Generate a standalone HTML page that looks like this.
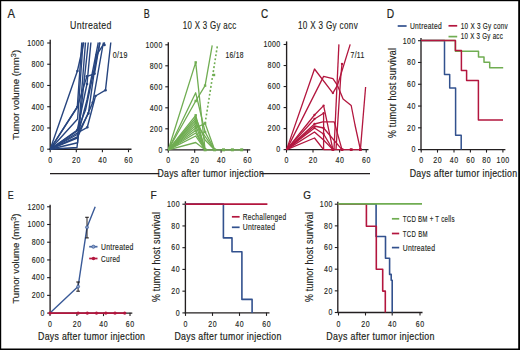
<!DOCTYPE html>
<html><head><meta charset="utf-8"><style>
html,body{margin:0;padding:0;background:#fff;overflow:hidden;}
svg{display:block;font-family:"Liberation Sans", sans-serif;}
</style></head><body>
<svg width="520" height="350" viewBox="0 0 520 350">
<rect x="0" y="0" width="520" height="350" fill="#fff"/>
<text x="7.4" y="17.9" font-size="12.0" text-anchor="start" fill="#231f20" stroke="#231f20" stroke-width="0.2" textLength="7.5" lengthAdjust="spacingAndGlyphs">A</text>
<text transform="translate(70,29.2) scale(0.821,1)" font-size="10.7" text-anchor="start" fill="#231f20" stroke="#231f20" stroke-width="0.15" textLength="50.55" lengthAdjust="spacing">Untreated</text>
<line x1="50.2" y1="39.8" x2="50.2" y2="149.79999999999998" stroke="#231f20" stroke-width="1.35"/>
<line x1="47.2" y1="149.2" x2="50.5" y2="149.2" stroke="#231f20" stroke-width="1.1"/>
<text transform="translate(44.0,152.0) scale(0.807,1)" font-size="8.7" text-anchor="end" fill="#231f20" stroke="#231f20" stroke-width="0.15" textLength="5.20" lengthAdjust="spacing">0</text>
<line x1="47.2" y1="127.96" x2="50.5" y2="127.96" stroke="#231f20" stroke-width="1.1"/>
<text transform="translate(44.0,130.76) scale(0.807,1)" font-size="8.7" text-anchor="end" fill="#231f20" stroke="#231f20" stroke-width="0.15" textLength="15.61" lengthAdjust="spacing">200</text>
<line x1="47.2" y1="106.72" x2="50.5" y2="106.72" stroke="#231f20" stroke-width="1.1"/>
<text transform="translate(44.0,109.52) scale(0.807,1)" font-size="8.7" text-anchor="end" fill="#231f20" stroke="#231f20" stroke-width="0.15" textLength="15.61" lengthAdjust="spacing">400</text>
<line x1="47.2" y1="85.47999999999999" x2="50.5" y2="85.47999999999999" stroke="#231f20" stroke-width="1.1"/>
<text transform="translate(44.0,88.27999999999999) scale(0.807,1)" font-size="8.7" text-anchor="end" fill="#231f20" stroke="#231f20" stroke-width="0.15" textLength="15.61" lengthAdjust="spacing">600</text>
<line x1="47.2" y1="64.24" x2="50.5" y2="64.24" stroke="#231f20" stroke-width="1.1"/>
<text transform="translate(44.0,67.03999999999999) scale(0.807,1)" font-size="8.7" text-anchor="end" fill="#231f20" stroke="#231f20" stroke-width="0.15" textLength="15.61" lengthAdjust="spacing">800</text>
<line x1="47.2" y1="43.0" x2="50.5" y2="43.0" stroke="#231f20" stroke-width="1.1"/>
<text transform="translate(44.0,45.8) scale(0.807,1)" font-size="8.7" text-anchor="end" fill="#231f20" stroke="#231f20" stroke-width="0.15" textLength="20.82" lengthAdjust="spacing">1000</text>
<line x1="49.6" y1="149.2" x2="131.5" y2="149.2" stroke="#231f20" stroke-width="1.35"/>
<line x1="50.2" y1="148.89999999999998" x2="50.2" y2="152.2" stroke="#231f20" stroke-width="1.1"/>
<text transform="translate(50.2,163.0) scale(0.807,1)" font-size="8.7" text-anchor="middle" fill="#231f20" stroke="#231f20" stroke-width="0.15" textLength="5.20" lengthAdjust="spacing">0</text>
<line x1="76.3" y1="148.89999999999998" x2="76.3" y2="152.2" stroke="#231f20" stroke-width="1.1"/>
<text transform="translate(76.3,163.0) scale(0.807,1)" font-size="8.7" text-anchor="middle" fill="#231f20" stroke="#231f20" stroke-width="0.15" textLength="10.41" lengthAdjust="spacing">20</text>
<line x1="102.4" y1="148.89999999999998" x2="102.4" y2="152.2" stroke="#231f20" stroke-width="1.1"/>
<text transform="translate(102.4,163.0) scale(0.807,1)" font-size="8.7" text-anchor="middle" fill="#231f20" stroke="#231f20" stroke-width="0.15" textLength="10.41" lengthAdjust="spacing">40</text>
<line x1="128.5" y1="148.89999999999998" x2="128.5" y2="152.2" stroke="#231f20" stroke-width="1.1"/>
<text transform="translate(128.5,163.0) scale(0.807,1)" font-size="8.7" text-anchor="middle" fill="#231f20" stroke="#231f20" stroke-width="0.15" textLength="10.41" lengthAdjust="spacing">60</text>
<text transform="translate(19.4,94.9) rotate(-90)" font-size="9.6" text-anchor="middle" fill="#231f20" stroke="#231f20" stroke-width="0.14">Tumor volume (mm<tspan font-size="7.4" dy="-3.9">3</tspan><tspan dy="3.9">)</tspan></text>
<text transform="translate(112.7,57.8) scale(0.813,1)" font-size="8.7" text-anchor="start" fill="#231f20" stroke="#231f20" stroke-width="0.15" textLength="18.20" lengthAdjust="spacing">0/19</text>
<polyline points="50.20,149.20 77.40,71.00 83.80,42.50" fill="none" stroke="#27457f" stroke-width="1.4" stroke-linejoin="round" />
<polyline points="50.20,149.20 77.30,107.00 86.90,76.40 94.50,73.80 99.80,42.50" fill="none" stroke="#27457f" stroke-width="1.4" stroke-linejoin="round" />
<polyline points="50.20,149.20 77.60,119.00 83.00,42.50" fill="none" stroke="#27457f" stroke-width="1.4" stroke-linejoin="round" />
<polyline points="50.20,149.20 77.60,142.70 85.50,42.50" fill="none" stroke="#27457f" stroke-width="1.4" stroke-linejoin="round" />
<polyline points="50.20,149.20 77.30,130.00 87.00,84.00 90.90,42.50" fill="none" stroke="#27457f" stroke-width="1.4" stroke-linejoin="round" />
<polyline points="50.20,149.20 77.30,107.00 81.80,42.50" fill="none" stroke="#27457f" stroke-width="1.4" stroke-linejoin="round" />
<polyline points="50.20,149.20 77.30,133.00 87.30,127.30 95.50,96.00 105.50,90.20 110.80,42.50" fill="none" stroke="#27457f" stroke-width="1.4" stroke-linejoin="round" />
<polyline points="50.20,149.20 77.30,134.50 88.40,113.40 96.60,54.80 104.80,42.50" fill="none" stroke="#27457f" stroke-width="1.4" stroke-linejoin="round" />
<polyline points="50.20,149.20 77.00,147.50 88.30,42.50" fill="none" stroke="#27457f" stroke-width="1.4" stroke-linejoin="round" />
<polyline points="50.20,149.20 77.30,137.00 87.00,100.00 98.30,42.50" fill="none" stroke="#27457f" stroke-width="1.4" stroke-linejoin="round" />
<polyline points="50.20,149.20 77.30,131.00 85.50,110.00 100.00,42.50" fill="none" stroke="#27457f" stroke-width="1.4" stroke-linejoin="round" />
<polyline points="50.20,149.20 77.30,138.00 92.70,102.60 103.40,42.50" fill="none" stroke="#27457f" stroke-width="1.4" stroke-linejoin="round" />
<circle cx="77.40" cy="71.00" r="1.3" fill="#27457f"/>
<circle cx="77.30" cy="107.00" r="1.3" fill="#27457f"/>
<circle cx="87.30" cy="127.30" r="1.3" fill="#27457f"/>
<circle cx="95.50" cy="96.00" r="1.3" fill="#27457f"/>
<circle cx="105.50" cy="90.20" r="1.3" fill="#27457f"/>
<circle cx="86.90" cy="76.40" r="1.3" fill="#27457f"/>
<circle cx="94.50" cy="73.80" r="1.3" fill="#27457f"/>
<circle cx="96.60" cy="54.80" r="1.3" fill="#27457f"/>
<circle cx="77.30" cy="130.00" r="1.3" fill="#27457f"/>
<circle cx="88.40" cy="113.40" r="1.3" fill="#27457f"/>
<circle cx="104.50" cy="45.00" r="1.3" fill="#27457f"/>
<circle cx="87.00" cy="84.00" r="1.3" fill="#27457f"/>
<circle cx="92.70" cy="102.60" r="1.3" fill="#27457f"/>
<text x="143.8" y="17.8" font-size="12.4" text-anchor="start" fill="#231f20" stroke="#231f20" stroke-width="0.2" textLength="6.0" lengthAdjust="spacingAndGlyphs">B</text>
<text transform="translate(182.7,29.1) scale(0.74,1)" font-size="10.7" text-anchor="start" fill="#231f20" stroke="#231f20" stroke-width="0.15" textLength="72.30" lengthAdjust="spacing">10 X 3 Gy acc</text>
<line x1="168.3" y1="42.2" x2="168.3" y2="150.4" stroke="#231f20" stroke-width="1.35"/>
<line x1="165.3" y1="149.8" x2="168.60000000000002" y2="149.8" stroke="#231f20" stroke-width="1.1"/>
<text transform="translate(162.3,152.60000000000002) scale(0.807,1)" font-size="8.7" text-anchor="end" fill="#231f20" stroke="#231f20" stroke-width="0.15" textLength="5.20" lengthAdjust="spacing">0</text>
<line x1="165.3" y1="128.8" x2="168.60000000000002" y2="128.8" stroke="#231f20" stroke-width="1.1"/>
<text transform="translate(162.3,131.60000000000002) scale(0.807,1)" font-size="8.7" text-anchor="end" fill="#231f20" stroke="#231f20" stroke-width="0.15" textLength="15.61" lengthAdjust="spacing">200</text>
<line x1="165.3" y1="107.80000000000001" x2="168.60000000000002" y2="107.80000000000001" stroke="#231f20" stroke-width="1.1"/>
<text transform="translate(162.3,110.60000000000001) scale(0.807,1)" font-size="8.7" text-anchor="end" fill="#231f20" stroke="#231f20" stroke-width="0.15" textLength="15.61" lengthAdjust="spacing">400</text>
<line x1="165.3" y1="86.80000000000001" x2="168.60000000000002" y2="86.80000000000001" stroke="#231f20" stroke-width="1.1"/>
<text transform="translate(162.3,89.60000000000001) scale(0.807,1)" font-size="8.7" text-anchor="end" fill="#231f20" stroke="#231f20" stroke-width="0.15" textLength="15.61" lengthAdjust="spacing">600</text>
<line x1="165.3" y1="65.80000000000001" x2="168.60000000000002" y2="65.80000000000001" stroke="#231f20" stroke-width="1.1"/>
<text transform="translate(162.3,68.60000000000001) scale(0.807,1)" font-size="8.7" text-anchor="end" fill="#231f20" stroke="#231f20" stroke-width="0.15" textLength="15.61" lengthAdjust="spacing">800</text>
<line x1="165.3" y1="44.80000000000001" x2="168.60000000000002" y2="44.80000000000001" stroke="#231f20" stroke-width="1.1"/>
<text transform="translate(162.3,47.60000000000001) scale(0.807,1)" font-size="8.7" text-anchor="end" fill="#231f20" stroke="#231f20" stroke-width="0.15" textLength="20.82" lengthAdjust="spacing">1000</text>
<line x1="167.70000000000002" y1="149.8" x2="250.3" y2="149.8" stroke="#231f20" stroke-width="1.35"/>
<line x1="168.3" y1="149.5" x2="168.3" y2="152.8" stroke="#231f20" stroke-width="1.1"/>
<text transform="translate(168.3,163.4) scale(0.807,1)" font-size="8.7" text-anchor="middle" fill="#231f20" stroke="#231f20" stroke-width="0.15" textLength="5.20" lengthAdjust="spacing">0</text>
<line x1="194.7" y1="149.5" x2="194.7" y2="152.8" stroke="#231f20" stroke-width="1.1"/>
<text transform="translate(194.7,163.4) scale(0.807,1)" font-size="8.7" text-anchor="middle" fill="#231f20" stroke="#231f20" stroke-width="0.15" textLength="10.41" lengthAdjust="spacing">20</text>
<line x1="221.1" y1="149.5" x2="221.1" y2="152.8" stroke="#231f20" stroke-width="1.1"/>
<text transform="translate(221.1,163.4) scale(0.807,1)" font-size="8.7" text-anchor="middle" fill="#231f20" stroke="#231f20" stroke-width="0.15" textLength="10.41" lengthAdjust="spacing">40</text>
<line x1="247.5" y1="149.5" x2="247.5" y2="152.8" stroke="#231f20" stroke-width="1.1"/>
<text transform="translate(247.5,163.4) scale(0.807,1)" font-size="8.7" text-anchor="middle" fill="#231f20" stroke="#231f20" stroke-width="0.15" textLength="10.41" lengthAdjust="spacing">60</text>
<text transform="translate(225.4,57.8) scale(0.769,1)" font-size="8.7" text-anchor="start" fill="#231f20" stroke="#231f20" stroke-width="0.15" textLength="23.41" lengthAdjust="spacing">16/18</text>
<polyline points="168.30,149.80 195.70,62.40 205.10,149.80" fill="none" stroke="#70ad52" stroke-width="1.3" stroke-linejoin="round" />
<polyline points="168.30,149.80 195.70,92.80 205.10,132.00 214.60,149.80" fill="none" stroke="#70ad52" stroke-width="1.3" stroke-linejoin="round" />
<polyline points="168.30,149.80 195.70,101.00 205.10,85.60 212.20,45.30" fill="none" stroke="#70ad52" stroke-width="1.3" stroke-linejoin="round" />
<polyline points="168.30,149.80 195.70,115.30 205.10,149.80" fill="none" stroke="#70ad52" stroke-width="1.3" stroke-linejoin="round" />
<polyline points="168.30,149.80 195.70,118.00 205.10,140.00 214.60,149.80" fill="none" stroke="#70ad52" stroke-width="1.3" stroke-linejoin="round" />
<polyline points="168.30,149.80 195.70,120.50 205.10,149.80" fill="none" stroke="#70ad52" stroke-width="1.3" stroke-linejoin="round" />
<polyline points="168.30,149.80 195.70,123.00 214.60,149.80" fill="none" stroke="#70ad52" stroke-width="1.3" stroke-linejoin="round" />
<polyline points="168.30,149.80 195.70,125.50 205.10,149.80" fill="none" stroke="#70ad52" stroke-width="1.3" stroke-linejoin="round" />
<polyline points="168.30,149.80 195.70,128.00 205.10,123.40 214.60,149.80" fill="none" stroke="#70ad52" stroke-width="1.3" stroke-linejoin="round" />
<polyline points="168.30,149.80 195.70,130.50 205.10,149.80" fill="none" stroke="#70ad52" stroke-width="1.3" stroke-linejoin="round" />
<polyline points="168.30,149.80 195.70,133.00 205.10,149.80" fill="none" stroke="#70ad52" stroke-width="1.3" stroke-linejoin="round" />
<polyline points="168.30,149.80 195.70,136.00 205.10,149.80" fill="none" stroke="#70ad52" stroke-width="1.3" stroke-linejoin="round" />
<polyline points="168.30,149.80 195.70,142.50 205.10,149.80" fill="none" stroke="#70ad52" stroke-width="1.3" stroke-linejoin="round" />
<polyline points="205.10,149.80 241.70,149.80" fill="none" stroke="#70ad52" stroke-width="1.3" stroke-linejoin="round" />
<polyline points="205.10,123.40 217.60,44.50" fill="none" stroke="#70ad52" stroke-width="1.6" stroke-linejoin="round" stroke-dasharray="1.9,2.1"/>
<rect x="194.50" y="61.20" width="2.4" height="2.4" fill="#70ad52"/>
<rect x="203.90" y="84.40" width="2.4" height="2.4" fill="#70ad52"/>
<rect x="203.90" y="122.20" width="2.4" height="2.4" fill="#70ad52"/>
<rect x="194.50" y="114.10" width="2.4" height="2.4" fill="#70ad52"/>
<rect x="194.50" y="119.30" width="2.4" height="2.4" fill="#70ad52"/>
<rect x="194.50" y="124.30" width="2.4" height="2.4" fill="#70ad52"/>
<rect x="194.50" y="129.30" width="2.4" height="2.4" fill="#70ad52"/>
<rect x="194.50" y="99.80" width="2.4" height="2.4" fill="#70ad52"/>
<rect x="203.90" y="130.80" width="2.4" height="2.4" fill="#70ad52"/>
<rect x="212.80" y="73.80" width="2.4" height="2.4" fill="#70ad52"/>
<rect x="194.50" y="116.80" width="2.4" height="2.4" fill="#70ad52"/>
<rect x="194.50" y="121.80" width="2.4" height="2.4" fill="#70ad52"/>
<rect x="194.50" y="126.80" width="2.4" height="2.4" fill="#70ad52"/>
<rect x="203.60" y="148.30" width="3.0" height="3.0" fill="#70ad52"/>
<rect x="213.10" y="148.30" width="3.0" height="3.0" fill="#70ad52"/>
<rect x="222.00" y="148.30" width="3.0" height="3.0" fill="#70ad52"/>
<rect x="230.90" y="148.30" width="3.0" height="3.0" fill="#70ad52"/>
<rect x="240.20" y="148.30" width="3.0" height="3.0" fill="#70ad52"/>
<text x="261.0" y="18.2" font-size="12.4" text-anchor="start" fill="#231f20" stroke="#231f20" stroke-width="0.2" textLength="7.2" lengthAdjust="spacingAndGlyphs">C</text>
<text transform="translate(298.0,29.1) scale(0.759,1)" font-size="10.7" text-anchor="start" fill="#231f20" stroke="#231f20" stroke-width="0.15" textLength="78.66" lengthAdjust="spacing">10 X 3 Gy conv</text>
<line x1="286.6" y1="41.4" x2="286.6" y2="150.2" stroke="#231f20" stroke-width="1.35"/>
<line x1="283.6" y1="149.6" x2="286.90000000000003" y2="149.6" stroke="#231f20" stroke-width="1.1"/>
<text transform="translate(280.2,152.4) scale(0.807,1)" font-size="8.7" text-anchor="end" fill="#231f20" stroke="#231f20" stroke-width="0.15" textLength="5.20" lengthAdjust="spacing">0</text>
<line x1="283.6" y1="128.57999999999998" x2="286.90000000000003" y2="128.57999999999998" stroke="#231f20" stroke-width="1.1"/>
<text transform="translate(280.2,131.38) scale(0.807,1)" font-size="8.7" text-anchor="end" fill="#231f20" stroke="#231f20" stroke-width="0.15" textLength="15.61" lengthAdjust="spacing">200</text>
<line x1="283.6" y1="107.56" x2="286.90000000000003" y2="107.56" stroke="#231f20" stroke-width="1.1"/>
<text transform="translate(280.2,110.36) scale(0.807,1)" font-size="8.7" text-anchor="end" fill="#231f20" stroke="#231f20" stroke-width="0.15" textLength="15.61" lengthAdjust="spacing">400</text>
<line x1="283.6" y1="86.53999999999999" x2="286.90000000000003" y2="86.53999999999999" stroke="#231f20" stroke-width="1.1"/>
<text transform="translate(280.2,89.33999999999999) scale(0.807,1)" font-size="8.7" text-anchor="end" fill="#231f20" stroke="#231f20" stroke-width="0.15" textLength="15.61" lengthAdjust="spacing">600</text>
<line x1="283.6" y1="65.52" x2="286.90000000000003" y2="65.52" stroke="#231f20" stroke-width="1.1"/>
<text transform="translate(280.2,68.32) scale(0.807,1)" font-size="8.7" text-anchor="end" fill="#231f20" stroke="#231f20" stroke-width="0.15" textLength="15.61" lengthAdjust="spacing">800</text>
<line x1="283.6" y1="44.5" x2="286.90000000000003" y2="44.5" stroke="#231f20" stroke-width="1.1"/>
<text transform="translate(280.2,47.3) scale(0.807,1)" font-size="8.7" text-anchor="end" fill="#231f20" stroke="#231f20" stroke-width="0.15" textLength="20.82" lengthAdjust="spacing">1000</text>
<line x1="285.9" y1="149.6" x2="368.5" y2="149.6" stroke="#231f20" stroke-width="1.35"/>
<line x1="286.5" y1="149.29999999999998" x2="286.5" y2="152.6" stroke="#231f20" stroke-width="1.1"/>
<text transform="translate(286.5,163.4) scale(0.807,1)" font-size="8.7" text-anchor="middle" fill="#231f20" stroke="#231f20" stroke-width="0.15" textLength="5.20" lengthAdjust="spacing">0</text>
<line x1="313.0" y1="149.29999999999998" x2="313.0" y2="152.6" stroke="#231f20" stroke-width="1.1"/>
<text transform="translate(313.0,163.4) scale(0.807,1)" font-size="8.7" text-anchor="middle" fill="#231f20" stroke="#231f20" stroke-width="0.15" textLength="10.41" lengthAdjust="spacing">20</text>
<line x1="339.6" y1="149.29999999999998" x2="339.6" y2="152.6" stroke="#231f20" stroke-width="1.1"/>
<text transform="translate(339.6,163.4) scale(0.807,1)" font-size="8.7" text-anchor="middle" fill="#231f20" stroke="#231f20" stroke-width="0.15" textLength="10.41" lengthAdjust="spacing">40</text>
<line x1="366.2" y1="149.29999999999998" x2="366.2" y2="152.6" stroke="#231f20" stroke-width="1.1"/>
<text transform="translate(366.2,163.4) scale(0.807,1)" font-size="8.7" text-anchor="middle" fill="#231f20" stroke="#231f20" stroke-width="0.15" textLength="10.41" lengthAdjust="spacing">60</text>
<text transform="translate(350.6,57.6) scale(0.777,1)" font-size="8.7" text-anchor="start" fill="#231f20" stroke="#231f20" stroke-width="0.15" textLength="17.50" lengthAdjust="spacing">7/11</text>
<polyline points="286.60,149.60 314.50,69.00 332.90,93.10 337.50,85.20 350.20,44.40" fill="none" stroke="#b3163e" stroke-width="1.3" stroke-linejoin="round" />
<polyline points="286.60,149.60 323.60,76.40 332.90,78.60 337.50,85.40 343.10,99.10 351.20,105.50 355.00,125.00 360.40,149.60" fill="none" stroke="#b3163e" stroke-width="1.3" stroke-linejoin="round" />
<polyline points="286.60,149.60 314.50,115.00 323.60,105.60 332.90,149.60" fill="none" stroke="#b3163e" stroke-width="1.3" stroke-linejoin="round" />
<polyline points="286.60,149.60 314.50,119.00 323.60,113.20 323.60,149.60" fill="none" stroke="#b3163e" stroke-width="1.3" stroke-linejoin="round" />
<polyline points="286.60,149.60 314.50,124.00 322.80,121.90 334.20,121.90 342.00,149.60" fill="none" stroke="#b3163e" stroke-width="1.3" stroke-linejoin="round" />
<polyline points="286.60,149.60 314.50,128.00 323.60,134.00 332.90,149.60" fill="none" stroke="#b3163e" stroke-width="1.3" stroke-linejoin="round" />
<polyline points="286.60,149.60 314.50,132.00 323.60,140.00 332.90,149.60" fill="none" stroke="#b3163e" stroke-width="1.3" stroke-linejoin="round" />
<polyline points="286.60,149.60 314.50,138.00 323.60,149.60" fill="none" stroke="#b3163e" stroke-width="1.3" stroke-linejoin="round" />
<polyline points="286.60,149.60 314.50,126.00 323.60,128.00 342.00,149.60" fill="none" stroke="#b3163e" stroke-width="1.3" stroke-linejoin="round" />
<polyline points="323.60,149.60 360.40,149.60" fill="none" stroke="#b3163e" stroke-width="1.3" stroke-linejoin="round" />
<polyline points="334.00,149.60 338.90,44.40" fill="none" stroke="#b3163e" stroke-width="1.3" stroke-linejoin="round" />
<polyline points="336.00,149.60 340.60,78.60 342.00,64.00" fill="none" stroke="#b3163e" stroke-width="1.3" stroke-linejoin="round" />
<polyline points="360.40,149.60 365.60,87.00" fill="none" stroke="#b3163e" stroke-width="1.3" stroke-linejoin="round" />
<circle cx="323.60" cy="105.60" r="1.15" fill="#b3163e"/>
<circle cx="323.60" cy="113.20" r="1.15" fill="#b3163e"/>
<circle cx="314.50" cy="115.00" r="1.15" fill="#b3163e"/>
<circle cx="314.50" cy="119.00" r="1.15" fill="#b3163e"/>
<circle cx="314.50" cy="124.00" r="1.15" fill="#b3163e"/>
<circle cx="314.50" cy="128.00" r="1.15" fill="#b3163e"/>
<circle cx="342.00" cy="64.00" r="1.15" fill="#b3163e"/>
<circle cx="332.90" cy="93.10" r="1.15" fill="#b3163e"/>
<circle cx="323.60" cy="134.00" r="1.15" fill="#b3163e"/>
<circle cx="323.60" cy="128.00" r="1.15" fill="#b3163e"/>
<rect x="331.50" y="148.20" width="2.8" height="2.8" fill="#b3163e"/>
<rect x="340.60" y="148.20" width="2.8" height="2.8" fill="#b3163e"/>
<rect x="349.80" y="148.20" width="2.8" height="2.8" fill="#b3163e"/>
<rect x="359.00" y="148.20" width="2.8" height="2.8" fill="#b3163e"/>
<line x1="50" y1="173.6" x2="159.2" y2="173.6" stroke="#231f20" stroke-width="1.15"/>
<line x1="260.5" y1="173.6" x2="370" y2="173.6" stroke="#231f20" stroke-width="1.15"/>
<text transform="translate(157.5,177.3) scale(0.83,1)" font-size="10.5" text-anchor="start" fill="#231f20" stroke="#231f20" stroke-width="0.2" textLength="128.07" lengthAdjust="spacing">Days after tumor injection</text>
<text x="386.7" y="17.6" font-size="12.4" text-anchor="start" fill="#231f20" stroke="#231f20" stroke-width="0.2" textLength="7.4" lengthAdjust="spacingAndGlyphs">D</text>
<line x1="397.7" y1="26" x2="406.6" y2="26" stroke="#32518e" stroke-width="1.7"/>
<text transform="translate(410,28.8) scale(0.772,1)" font-size="8.7" text-anchor="start" fill="#231f20" stroke="#231f20" stroke-width="0.15" textLength="41.06" lengthAdjust="spacing">Untreated</text>
<line x1="448.5" y1="25.8" x2="457.2" y2="25.8" stroke="#b3163e" stroke-width="1.7"/>
<text transform="translate(460.8,28.8) scale(0.733,1)" font-size="8.7" text-anchor="start" fill="#231f20" stroke="#231f20" stroke-width="0.15" textLength="63.98" lengthAdjust="spacing">10 X 3 Gy conv</text>
<line x1="448.5" y1="36.6" x2="457.2" y2="36.6" stroke="#70ad52" stroke-width="1.7"/>
<text transform="translate(460.8,39.4) scale(0.715,1)" font-size="8.7" text-anchor="start" fill="#231f20" stroke="#231f20" stroke-width="0.15" textLength="58.74" lengthAdjust="spacing">10 X 3 Gy acc</text>
<line x1="421.0" y1="37.9" x2="421.0" y2="150.2" stroke="#231f20" stroke-width="1.35"/>
<line x1="418.0" y1="149.6" x2="421.3" y2="149.6" stroke="#231f20" stroke-width="1.1"/>
<text transform="translate(415.3,152.4) scale(0.807,1)" font-size="8.7" text-anchor="end" fill="#231f20" stroke="#231f20" stroke-width="0.15" textLength="5.20" lengthAdjust="spacing">0</text>
<line x1="418.0" y1="127.82" x2="421.3" y2="127.82" stroke="#231f20" stroke-width="1.1"/>
<text transform="translate(415.3,130.62) scale(0.807,1)" font-size="8.7" text-anchor="end" fill="#231f20" stroke="#231f20" stroke-width="0.15" textLength="10.41" lengthAdjust="spacing">20</text>
<line x1="418.0" y1="106.03999999999999" x2="421.3" y2="106.03999999999999" stroke="#231f20" stroke-width="1.1"/>
<text transform="translate(415.3,108.83999999999999) scale(0.807,1)" font-size="8.7" text-anchor="end" fill="#231f20" stroke="#231f20" stroke-width="0.15" textLength="10.41" lengthAdjust="spacing">40</text>
<line x1="418.0" y1="84.25999999999999" x2="421.3" y2="84.25999999999999" stroke="#231f20" stroke-width="1.1"/>
<text transform="translate(415.3,87.05999999999999) scale(0.807,1)" font-size="8.7" text-anchor="end" fill="#231f20" stroke="#231f20" stroke-width="0.15" textLength="10.41" lengthAdjust="spacing">60</text>
<line x1="418.0" y1="62.47999999999999" x2="421.3" y2="62.47999999999999" stroke="#231f20" stroke-width="1.1"/>
<text transform="translate(415.3,65.27999999999999) scale(0.807,1)" font-size="8.7" text-anchor="end" fill="#231f20" stroke="#231f20" stroke-width="0.15" textLength="10.41" lengthAdjust="spacing">80</text>
<line x1="418.0" y1="40.69999999999999" x2="421.3" y2="40.69999999999999" stroke="#231f20" stroke-width="1.1"/>
<text transform="translate(415.3,43.499999999999986) scale(0.807,1)" font-size="8.7" text-anchor="end" fill="#231f20" stroke="#231f20" stroke-width="0.15" textLength="15.61" lengthAdjust="spacing">100</text>
<line x1="420.4" y1="149.6" x2="505.4" y2="149.6" stroke="#231f20" stroke-width="1.35"/>
<line x1="421.2" y1="149.29999999999998" x2="421.2" y2="152.6" stroke="#231f20" stroke-width="1.1"/>
<text transform="translate(421.2,163.2) scale(0.807,1)" font-size="8.7" text-anchor="middle" fill="#231f20" stroke="#231f20" stroke-width="0.15" textLength="5.20" lengthAdjust="spacing">0</text>
<line x1="437.5" y1="149.29999999999998" x2="437.5" y2="152.6" stroke="#231f20" stroke-width="1.1"/>
<text transform="translate(437.5,163.2) scale(0.807,1)" font-size="8.7" text-anchor="middle" fill="#231f20" stroke="#231f20" stroke-width="0.15" textLength="10.41" lengthAdjust="spacing">20</text>
<line x1="454.0" y1="149.29999999999998" x2="454.0" y2="152.6" stroke="#231f20" stroke-width="1.1"/>
<text transform="translate(454.0,163.2) scale(0.807,1)" font-size="8.7" text-anchor="middle" fill="#231f20" stroke="#231f20" stroke-width="0.15" textLength="10.41" lengthAdjust="spacing">40</text>
<line x1="470.4" y1="149.29999999999998" x2="470.4" y2="152.6" stroke="#231f20" stroke-width="1.1"/>
<text transform="translate(470.4,163.2) scale(0.807,1)" font-size="8.7" text-anchor="middle" fill="#231f20" stroke="#231f20" stroke-width="0.15" textLength="10.41" lengthAdjust="spacing">60</text>
<line x1="486.5" y1="149.29999999999998" x2="486.5" y2="152.6" stroke="#231f20" stroke-width="1.1"/>
<text transform="translate(486.5,163.2) scale(0.807,1)" font-size="8.7" text-anchor="middle" fill="#231f20" stroke="#231f20" stroke-width="0.15" textLength="10.41" lengthAdjust="spacing">80</text>
<line x1="502.9" y1="149.29999999999998" x2="502.9" y2="152.6" stroke="#231f20" stroke-width="1.1"/>
<text transform="translate(502.9,163.2) scale(0.807,1)" font-size="8.7" text-anchor="middle" fill="#231f20" stroke="#231f20" stroke-width="0.15" textLength="15.61" lengthAdjust="spacing">100</text>
<text transform="translate(395.6,93.0) rotate(-90) scale(0.88,1)" font-size="10.1" text-anchor="middle" fill="#231f20" stroke="#231f20" stroke-width="0.14" textLength="102.27" lengthAdjust="spacing">% tumor host survival</text>
<text transform="translate(409.7,176.7) scale(0.84,1)" font-size="10.5" text-anchor="start" fill="#231f20" stroke="#231f20" stroke-width="0.2" textLength="127.98" lengthAdjust="spacing">Days after tumor injection</text>
<polyline points="421.00,40.60 444.50,40.60 444.50,74.50 449.70,74.50 449.70,88.10 455.60,88.10 455.60,135.20 461.20,135.20 461.20,149.60" fill="none" stroke="#32518e" stroke-width="1.5" stroke-linejoin="round" />
<polyline points="421.00,40.60 455.40,40.60 455.40,51.30 478.50,51.30 478.50,57.00 484.00,57.00 484.00,62.30 489.70,62.30 489.70,67.70 503.20,67.70" fill="none" stroke="#70ad52" stroke-width="1.5" stroke-linejoin="round" />
<polyline points="421.00,40.60 455.40,40.60 455.40,50.40 461.40,50.40 461.40,70.40 466.60,70.40 466.60,80.40 478.40,80.40 478.40,119.90 503.00,119.90" fill="none" stroke="#b3163e" stroke-width="1.5" stroke-linejoin="round" />
<text x="7.8" y="199.2" font-size="11.2" text-anchor="start" fill="#231f20" stroke="#231f20" stroke-width="0.2" textLength="5.9" lengthAdjust="spacingAndGlyphs">E</text>
<line x1="50.1" y1="204.7" x2="50.1" y2="313.70000000000005" stroke="#231f20" stroke-width="1.35"/>
<line x1="47.1" y1="313.1" x2="50.4" y2="313.1" stroke="#231f20" stroke-width="1.1"/>
<text transform="translate(44.3,315.90000000000003) scale(0.807,1)" font-size="8.7" text-anchor="end" fill="#231f20" stroke="#231f20" stroke-width="0.15" textLength="5.20" lengthAdjust="spacing">0</text>
<line x1="47.1" y1="295.38" x2="50.4" y2="295.38" stroke="#231f20" stroke-width="1.1"/>
<text transform="translate(44.3,298.18) scale(0.807,1)" font-size="8.7" text-anchor="end" fill="#231f20" stroke="#231f20" stroke-width="0.15" textLength="15.61" lengthAdjust="spacing">200</text>
<line x1="47.1" y1="277.66" x2="50.4" y2="277.66" stroke="#231f20" stroke-width="1.1"/>
<text transform="translate(44.3,280.46000000000004) scale(0.807,1)" font-size="8.7" text-anchor="end" fill="#231f20" stroke="#231f20" stroke-width="0.15" textLength="15.61" lengthAdjust="spacing">400</text>
<line x1="47.1" y1="259.94000000000005" x2="50.4" y2="259.94000000000005" stroke="#231f20" stroke-width="1.1"/>
<text transform="translate(44.3,262.74000000000007) scale(0.807,1)" font-size="8.7" text-anchor="end" fill="#231f20" stroke="#231f20" stroke-width="0.15" textLength="15.61" lengthAdjust="spacing">600</text>
<line x1="47.1" y1="242.22000000000003" x2="50.4" y2="242.22000000000003" stroke="#231f20" stroke-width="1.1"/>
<text transform="translate(44.3,245.02000000000004) scale(0.807,1)" font-size="8.7" text-anchor="end" fill="#231f20" stroke="#231f20" stroke-width="0.15" textLength="15.61" lengthAdjust="spacing">800</text>
<line x1="47.1" y1="224.50000000000003" x2="50.4" y2="224.50000000000003" stroke="#231f20" stroke-width="1.1"/>
<text transform="translate(44.3,227.30000000000004) scale(0.807,1)" font-size="8.7" text-anchor="end" fill="#231f20" stroke="#231f20" stroke-width="0.15" textLength="20.82" lengthAdjust="spacing">1000</text>
<line x1="47.1" y1="206.78000000000003" x2="50.4" y2="206.78000000000003" stroke="#231f20" stroke-width="1.1"/>
<text transform="translate(44.3,209.58000000000004) scale(0.807,1)" font-size="8.7" text-anchor="end" fill="#231f20" stroke="#231f20" stroke-width="0.15" textLength="20.82" lengthAdjust="spacing">1200</text>
<line x1="49.4" y1="313.1" x2="132.3" y2="313.1" stroke="#231f20" stroke-width="1.35"/>
<line x1="50.0" y1="312.8" x2="50.0" y2="316.1" stroke="#231f20" stroke-width="1.1"/>
<text transform="translate(50.0,326.9) scale(0.807,1)" font-size="8.7" text-anchor="middle" fill="#231f20" stroke="#231f20" stroke-width="0.15" textLength="5.20" lengthAdjust="spacing">0</text>
<line x1="76.9" y1="312.8" x2="76.9" y2="316.1" stroke="#231f20" stroke-width="1.1"/>
<text transform="translate(76.9,326.9) scale(0.807,1)" font-size="8.7" text-anchor="middle" fill="#231f20" stroke="#231f20" stroke-width="0.15" textLength="10.41" lengthAdjust="spacing">20</text>
<line x1="103.5" y1="312.8" x2="103.5" y2="316.1" stroke="#231f20" stroke-width="1.1"/>
<text transform="translate(103.5,326.9) scale(0.807,1)" font-size="8.7" text-anchor="middle" fill="#231f20" stroke="#231f20" stroke-width="0.15" textLength="10.41" lengthAdjust="spacing">40</text>
<line x1="130.0" y1="312.8" x2="130.0" y2="316.1" stroke="#231f20" stroke-width="1.1"/>
<text transform="translate(130.0,326.9) scale(0.807,1)" font-size="8.7" text-anchor="middle" fill="#231f20" stroke="#231f20" stroke-width="0.15" textLength="10.41" lengthAdjust="spacing">60</text>
<text transform="translate(19.4,258.6) rotate(-90)" font-size="9.6" text-anchor="middle" fill="#231f20" stroke="#231f20" stroke-width="0.14">Tumor volume (mm<tspan font-size="7.4" dy="-3.9">3</tspan><tspan dy="3.9">)</tspan></text>
<text transform="translate(38,340.4) scale(0.836,1)" font-size="10.5" text-anchor="start" fill="#231f20" stroke="#231f20" stroke-width="0.2" textLength="127.99" lengthAdjust="spacing">Days after tumor injection</text>
<polyline points="50.00,313.10 78.10,286.60 87.00,227.30 95.20,206.70" fill="none" stroke="#3a5a98" stroke-width="1.4" stroke-linejoin="round" />
<polyline points="50.00,313.10 124.70,313.10" fill="none" stroke="#b3163e" stroke-width="1.6" stroke-linejoin="round" />
<circle cx="50.00" cy="313.10" r="1.7" fill="#b3163e"/>
<circle cx="78.10" cy="313.10" r="1.7" fill="#b3163e"/>
<circle cx="87.30" cy="313.10" r="1.7" fill="#b3163e"/>
<circle cx="96.50" cy="313.10" r="1.7" fill="#b3163e"/>
<circle cx="105.80" cy="313.10" r="1.7" fill="#b3163e"/>
<circle cx="115.00" cy="313.10" r="1.7" fill="#b3163e"/>
<circle cx="124.70" cy="313.10" r="1.7" fill="#b3163e"/>
<line x1="78.1" y1="282" x2="78.1" y2="291.2" stroke="#231f20" stroke-width="1.0"/>
<line x1="76.3" y1="282" x2="79.89999999999999" y2="282" stroke="#231f20" stroke-width="1.1"/>
<line x1="76.3" y1="291.2" x2="79.89999999999999" y2="291.2" stroke="#231f20" stroke-width="1.1"/>
<line x1="87.0" y1="217.3" x2="87.0" y2="237.9" stroke="#231f20" stroke-width="1.0"/>
<line x1="85.2" y1="217.3" x2="88.8" y2="217.3" stroke="#231f20" stroke-width="1.1"/>
<line x1="85.2" y1="237.9" x2="88.8" y2="237.9" stroke="#231f20" stroke-width="1.1"/>
<circle cx="78.1" cy="286.6" r="1.5" fill="#8da2c9" stroke="#3a5a98" stroke-width="0.7"/>
<circle cx="87.0" cy="227.3" r="1.5" fill="#8da2c9" stroke="#3a5a98" stroke-width="0.7"/>
<line x1="89.2" y1="246.7" x2="97.5" y2="246.7" stroke="#4a69a3" stroke-width="1.7"/>
<circle cx="93.4" cy="246.7" r="1.6" fill="#8da2c9" stroke="#3a5a98" stroke-width="0.7"/>
<text transform="translate(101,249.8) scale(0.795,1)" font-size="8.6" text-anchor="start" fill="#231f20" stroke="#231f20" stroke-width="0.15" textLength="40.63" lengthAdjust="spacing">Untreated</text>
<line x1="89.2" y1="258.5" x2="97.5" y2="258.5" stroke="#b3163e" stroke-width="1.7"/>
<circle cx="93.50" cy="258.50" r="1.7" fill="#b3163e"/>
<text transform="translate(101,261.6) scale(0.75,1)" font-size="8.6" text-anchor="start" fill="#231f20" stroke="#231f20" stroke-width="0.15" textLength="25.20" lengthAdjust="spacing">Cured</text>
<text x="150.4" y="198.8" font-size="11.2" text-anchor="start" fill="#231f20" stroke="#231f20" stroke-width="0.2" textLength="6.2" lengthAdjust="spacingAndGlyphs">F</text>
<line x1="185.4" y1="201.3" x2="185.4" y2="313.5" stroke="#231f20" stroke-width="1.35"/>
<line x1="182.4" y1="312.9" x2="185.70000000000002" y2="312.9" stroke="#231f20" stroke-width="1.1"/>
<text transform="translate(179.6,315.7) scale(0.807,1)" font-size="8.7" text-anchor="end" fill="#231f20" stroke="#231f20" stroke-width="0.15" textLength="5.20" lengthAdjust="spacing">0</text>
<line x1="182.4" y1="291.15999999999997" x2="185.70000000000002" y2="291.15999999999997" stroke="#231f20" stroke-width="1.1"/>
<text transform="translate(179.6,293.96) scale(0.807,1)" font-size="8.7" text-anchor="end" fill="#231f20" stroke="#231f20" stroke-width="0.15" textLength="10.41" lengthAdjust="spacing">20</text>
<line x1="182.4" y1="269.41999999999996" x2="185.70000000000002" y2="269.41999999999996" stroke="#231f20" stroke-width="1.1"/>
<text transform="translate(179.6,272.21999999999997) scale(0.807,1)" font-size="8.7" text-anchor="end" fill="#231f20" stroke="#231f20" stroke-width="0.15" textLength="10.41" lengthAdjust="spacing">40</text>
<line x1="182.4" y1="247.67999999999998" x2="185.70000000000002" y2="247.67999999999998" stroke="#231f20" stroke-width="1.1"/>
<text transform="translate(179.6,250.48) scale(0.807,1)" font-size="8.7" text-anchor="end" fill="#231f20" stroke="#231f20" stroke-width="0.15" textLength="10.41" lengthAdjust="spacing">60</text>
<line x1="182.4" y1="225.94" x2="185.70000000000002" y2="225.94" stroke="#231f20" stroke-width="1.1"/>
<text transform="translate(179.6,228.74) scale(0.807,1)" font-size="8.7" text-anchor="end" fill="#231f20" stroke="#231f20" stroke-width="0.15" textLength="10.41" lengthAdjust="spacing">80</text>
<line x1="182.4" y1="204.2" x2="185.70000000000002" y2="204.2" stroke="#231f20" stroke-width="1.1"/>
<text transform="translate(179.6,207.0) scale(0.807,1)" font-size="8.7" text-anchor="end" fill="#231f20" stroke="#231f20" stroke-width="0.15" textLength="15.61" lengthAdjust="spacing">100</text>
<line x1="184.9" y1="312.9" x2="269.5" y2="312.9" stroke="#231f20" stroke-width="1.35"/>
<line x1="185.5" y1="312.59999999999997" x2="185.5" y2="315.9" stroke="#231f20" stroke-width="1.1"/>
<text transform="translate(185.5,326.9) scale(0.807,1)" font-size="8.7" text-anchor="middle" fill="#231f20" stroke="#231f20" stroke-width="0.15" textLength="5.20" lengthAdjust="spacing">0</text>
<line x1="212.5" y1="312.59999999999997" x2="212.5" y2="315.9" stroke="#231f20" stroke-width="1.1"/>
<text transform="translate(212.5,326.9) scale(0.807,1)" font-size="8.7" text-anchor="middle" fill="#231f20" stroke="#231f20" stroke-width="0.15" textLength="10.41" lengthAdjust="spacing">20</text>
<line x1="239.5" y1="312.59999999999997" x2="239.5" y2="315.9" stroke="#231f20" stroke-width="1.1"/>
<text transform="translate(239.5,326.9) scale(0.807,1)" font-size="8.7" text-anchor="middle" fill="#231f20" stroke="#231f20" stroke-width="0.15" textLength="10.41" lengthAdjust="spacing">40</text>
<line x1="266.5" y1="312.59999999999997" x2="266.5" y2="315.9" stroke="#231f20" stroke-width="1.1"/>
<text transform="translate(266.5,326.9) scale(0.807,1)" font-size="8.7" text-anchor="middle" fill="#231f20" stroke="#231f20" stroke-width="0.15" textLength="10.41" lengthAdjust="spacing">60</text>
<text transform="translate(160.0,257.1) rotate(-90) scale(0.88,1)" font-size="10.1" text-anchor="middle" fill="#231f20" stroke="#231f20" stroke-width="0.14" textLength="102.27" lengthAdjust="spacing">% tumor host survival</text>
<text transform="translate(174.4,340.4) scale(0.836,1)" font-size="10.5" text-anchor="start" fill="#231f20" stroke="#231f20" stroke-width="0.2" textLength="127.99" lengthAdjust="spacing">Days after tumor injection</text>
<polyline points="185.40,204.10 223.40,204.10 223.40,237.90 232.00,237.90 232.00,251.80 241.90,251.80 241.90,299.40 252.10,299.40 252.10,312.90" fill="none" stroke="#32518e" stroke-width="1.6" stroke-linejoin="round" />
<polyline points="185.40,204.10 267.40,204.10" fill="none" stroke="#b3163e" stroke-width="1.6" stroke-linejoin="round" />
<line x1="231.9" y1="216.8" x2="239.6" y2="216.8" stroke="#b3163e" stroke-width="1.7"/>
<text transform="translate(242.7,219.9) scale(0.759,1)" font-size="8.7" text-anchor="start" fill="#231f20" stroke="#231f20" stroke-width="0.15" textLength="57.18" lengthAdjust="spacing">Rechallenged</text>
<line x1="231.9" y1="227.3" x2="239.6" y2="227.3" stroke="#32518e" stroke-width="1.7"/>
<text transform="translate(242.7,230.4) scale(0.786,1)" font-size="8.7" text-anchor="start" fill="#231f20" stroke="#231f20" stroke-width="0.15" textLength="41.09" lengthAdjust="spacing">Untreated</text>
<text x="303.3" y="198.9" font-size="11.2" text-anchor="start" fill="#231f20" stroke="#231f20" stroke-width="0.2" textLength="7.7" lengthAdjust="spacingAndGlyphs">G</text>
<line x1="337.8" y1="201.8" x2="337.8" y2="313.1" stroke="#231f20" stroke-width="1.35"/>
<line x1="334.8" y1="312.5" x2="338.1" y2="312.5" stroke="#231f20" stroke-width="1.1"/>
<text transform="translate(332.4,315.3) scale(0.807,1)" font-size="8.7" text-anchor="end" fill="#231f20" stroke="#231f20" stroke-width="0.15" textLength="5.20" lengthAdjust="spacing">0</text>
<line x1="334.8" y1="290.84" x2="338.1" y2="290.84" stroke="#231f20" stroke-width="1.1"/>
<text transform="translate(332.4,293.64) scale(0.807,1)" font-size="8.7" text-anchor="end" fill="#231f20" stroke="#231f20" stroke-width="0.15" textLength="10.41" lengthAdjust="spacing">20</text>
<line x1="334.8" y1="269.18" x2="338.1" y2="269.18" stroke="#231f20" stroke-width="1.1"/>
<text transform="translate(332.4,271.98) scale(0.807,1)" font-size="8.7" text-anchor="end" fill="#231f20" stroke="#231f20" stroke-width="0.15" textLength="10.41" lengthAdjust="spacing">40</text>
<line x1="334.8" y1="247.51999999999998" x2="338.1" y2="247.51999999999998" stroke="#231f20" stroke-width="1.1"/>
<text transform="translate(332.4,250.32) scale(0.807,1)" font-size="8.7" text-anchor="end" fill="#231f20" stroke="#231f20" stroke-width="0.15" textLength="10.41" lengthAdjust="spacing">60</text>
<line x1="334.8" y1="225.86" x2="338.1" y2="225.86" stroke="#231f20" stroke-width="1.1"/>
<text transform="translate(332.4,228.66000000000003) scale(0.807,1)" font-size="8.7" text-anchor="end" fill="#231f20" stroke="#231f20" stroke-width="0.15" textLength="10.41" lengthAdjust="spacing">80</text>
<line x1="334.8" y1="204.2" x2="338.1" y2="204.2" stroke="#231f20" stroke-width="1.1"/>
<text transform="translate(332.4,207.0) scale(0.807,1)" font-size="8.7" text-anchor="end" fill="#231f20" stroke="#231f20" stroke-width="0.15" textLength="15.61" lengthAdjust="spacing">100</text>
<line x1="337.7" y1="312.5" x2="422.5" y2="312.5" stroke="#231f20" stroke-width="1.35"/>
<line x1="338.5" y1="312.2" x2="338.5" y2="315.5" stroke="#231f20" stroke-width="1.1"/>
<text transform="translate(338.5,326.9) scale(0.807,1)" font-size="8.7" text-anchor="middle" fill="#231f20" stroke="#231f20" stroke-width="0.15" textLength="5.20" lengthAdjust="spacing">0</text>
<line x1="365.5" y1="312.2" x2="365.5" y2="315.5" stroke="#231f20" stroke-width="1.1"/>
<text transform="translate(365.5,326.9) scale(0.807,1)" font-size="8.7" text-anchor="middle" fill="#231f20" stroke="#231f20" stroke-width="0.15" textLength="10.41" lengthAdjust="spacing">20</text>
<line x1="392.2" y1="312.2" x2="392.2" y2="315.5" stroke="#231f20" stroke-width="1.1"/>
<text transform="translate(392.2,326.9) scale(0.807,1)" font-size="8.7" text-anchor="middle" fill="#231f20" stroke="#231f20" stroke-width="0.15" textLength="10.41" lengthAdjust="spacing">40</text>
<line x1="420.0" y1="312.2" x2="420.0" y2="315.5" stroke="#231f20" stroke-width="1.1"/>
<text transform="translate(420.0,326.9) scale(0.807,1)" font-size="8.7" text-anchor="middle" fill="#231f20" stroke="#231f20" stroke-width="0.15" textLength="10.41" lengthAdjust="spacing">60</text>
<text transform="translate(313.2,257.1) rotate(-90) scale(0.88,1)" font-size="10.1" text-anchor="middle" fill="#231f20" stroke="#231f20" stroke-width="0.14" textLength="102.27" lengthAdjust="spacing">% tumor host survival</text>
<text transform="translate(326.2,340.4) scale(0.846,1)" font-size="10.5" text-anchor="start" fill="#231f20" stroke="#231f20" stroke-width="0.2" textLength="128.01" lengthAdjust="spacing">Days after tumor injection</text>
<polyline points="337.80,203.90 376.10,203.90 376.10,236.50 385.50,236.50 385.50,258.20 389.60,258.20 389.60,274.40 391.20,274.40 391.20,280.30 392.20,280.30 392.20,312.50" fill="none" stroke="#32518e" stroke-width="1.6" stroke-linejoin="round" />
<polyline points="337.80,203.90 366.40,203.90 366.40,226.20 376.30,226.20 376.30,269.30 382.70,269.30 382.70,291.10 385.30,291.10 385.30,312.50" fill="none" stroke="#b3163e" stroke-width="1.6" stroke-linejoin="round" />
<polyline points="337.80,203.90 422.00,203.90" fill="none" stroke="#70ad52" stroke-width="1.6" stroke-linejoin="round" />
<line x1="391.9" y1="218.8" x2="399.2" y2="218.8" stroke="#70ad52" stroke-width="1.7"/>
<text transform="translate(402.7,221.8) scale(0.708,1)" font-size="8.7" text-anchor="start" fill="#231f20" stroke="#231f20" stroke-width="0.15" textLength="73.16" lengthAdjust="spacing">TCD BM + T cells</text>
<line x1="391.9" y1="233.5" x2="399.2" y2="233.5" stroke="#b3163e" stroke-width="1.7"/>
<text transform="translate(402.7,236.5) scale(0.694,1)" font-size="8.7" text-anchor="start" fill="#231f20" stroke="#231f20" stroke-width="0.15" textLength="35.88" lengthAdjust="spacing">TCD BM</text>
<line x1="391.9" y1="247.6" x2="399.2" y2="247.6" stroke="#32518e" stroke-width="1.7"/>
<text transform="translate(402.7,250.5) scale(0.786,1)" font-size="8.7" text-anchor="start" fill="#231f20" stroke="#231f20" stroke-width="0.15" textLength="41.09" lengthAdjust="spacing">Untreated</text>
<rect x="0" y="0" width="520" height="1.2" fill="#000"/>
<rect x="0" y="0" width="1.2" height="350" fill="#000"/>
<rect x="518.2" y="0" width="1.8" height="350" fill="#000"/>
<rect x="0" y="348.5" width="520" height="1.5" fill="#000"/>
</svg>
</body></html>
